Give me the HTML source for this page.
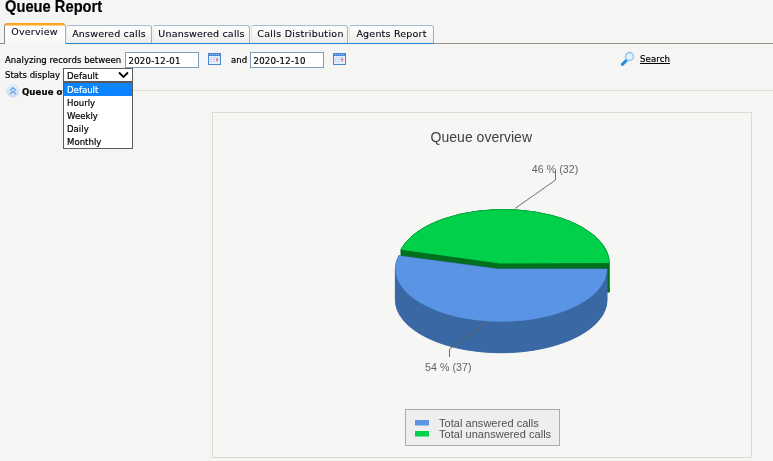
<!DOCTYPE html>
<html>
<head>
<meta charset="utf-8">
<title>Queue Report</title>
<style>
html,body{margin:0;padding:0;}
body{width:773px;height:461px;overflow:hidden;background:#f5f5f3;position:relative;
  font-family:"DejaVu Sans Condensed","Liberation Sans",sans-serif;font-size:9.5px;letter-spacing:0.02px;color:#000;-webkit-text-stroke:0.2px #000;}
.abs{position:absolute;white-space:nowrap;}
h1{position:absolute;left:5px;top:-2px;margin:0;font-family:"Liberation Sans",sans-serif;font-weight:bold;font-size:16px;line-height:18px;color:#000;white-space:nowrap;transform:scaleX(0.917);transform-origin:0 0;}
.tabline{position:absolute;left:0;top:43px;width:773px;height:1px;background:#9c8f84;}
.tab{position:absolute;top:25px;height:17px;box-sizing:content-box;border:1px solid #a9bccb;border-right-color:#9db0c0;border-left-color:#e2e9ef;border-bottom:1px solid #2f86cc;border-radius:3px 3px 0 0;
  background:linear-gradient(#fdfdfd,#f9f9f8 40%,#ebebe9);font-family:"DejaVu Sans","Liberation Sans",sans-serif;font-size:9.5px;letter-spacing:0.2px;line-height:16px;text-align:center;color:#050518;-webkit-text-stroke:0.1px #050518;white-space:nowrap;}
.tab.active{top:23px;height:21px;border:none;border-left:1px solid #8a8a8a;border-right:1px solid #b0b0b0;background:linear-gradient(#ff9a10 0,#ffa826 1.5px,#ffd28a 2.5px,#fff 3.2px,#fff 60%,#f6f6f4);border-radius:4px 4px 0 0;line-height:17px;}
.d{position:absolute;box-sizing:border-box;height:16px;border:1px solid #7f9db9;background:#fff;font-size:9.5px;letter-spacing:0.25px;line-height:16px;padding:0 0 0 2.5px;margin:0;color:#000;white-space:nowrap;overflow:hidden;}
.sel{position:absolute;left:63px;top:68px;width:70px;height:14px;box-sizing:border-box;border:1px solid #5a5a5a;background:#fff;}
.list{position:absolute;left:63px;top:82px;width:70px;height:67px;box-sizing:border-box;border:1px solid #5a5a5a;background:#fff;}
.list div{height:13px;line-height:13px;padding-left:3px;}
.list div.hl{background:#0a84ff;color:#fff;-webkit-text-stroke:0.2px #fff;}
.chart{position:absolute;left:212px;top:112px;width:538px;height:344px;border:1px solid #d9dbd5;background:#f6f6f4;}
</style>
</head>
<body>
<h1>Queue Report</h1>

<div class="tabline"></div><div class="abs" style="left:0;top:43px;width:5px;height:1px;background:#8a8a8a;"></div>
<div class="tab active" style="left:4px;width:60px;"><span style="position:relative;left:-0.5px;">Overview</span></div>
<div class="tab" style="left:66px;width:84px;">Answered calls</div>
<div class="tab" style="left:153px;width:95px;">Unanswered calls</div>
<div class="tab" style="left:251px;width:93px;padding-left:2px;letter-spacing:0.3px;">Calls Distribution</div>
<div class="tab" style="left:349px;width:83px;">Agents Report</div>
<div class="abs" style="left:66px;top:43px;width:368px;height:1px;background:#2f86cc;"></div>

<div class="abs" style="left:5px;top:54px;line-height:12px;">Analyzing records between</div>
<div class="d" style="left:125px;top:52px;width:74px;">2020-12-01</div>
<svg class="abs" style="left:208px;top:53px;" width="13" height="12" viewBox="0 0 13 12">
  <rect x="0" y="0" width="13" height="12" fill="#4a86d4"/>
  <rect x="1" y="3" width="11" height="8" fill="#e6effb"/>
  <path d="M2 1.5H11" stroke="#9cc2ef" stroke-width="1" stroke-dasharray="1 1"/>
  <path d="M3 4.5H10M2 6.5H10M2 8.5H10" stroke="#86a8d8" stroke-width="1" stroke-dasharray="1.5 1.5" opacity="0.6"/>
  <rect x="7.8" y="5.2" width="2.6" height="2.6" rx="1.2" fill="#f47a68"/>
</svg>
<div class="abs" style="left:231px;top:54px;line-height:12px;">and</div>
<div class="d" style="left:250px;top:52px;width:74px;">2020-12-10</div>
<svg class="abs" style="left:333px;top:53px;" width="13" height="12" viewBox="0 0 13 12">
  <rect x="0" y="0" width="13" height="12" fill="#4a86d4"/>
  <rect x="1" y="3" width="11" height="8" fill="#e6effb"/>
  <path d="M2 1.5H11" stroke="#9cc2ef" stroke-width="1" stroke-dasharray="1 1"/>
  <path d="M3 4.5H10M2 6.5H10M2 8.5H10" stroke="#86a8d8" stroke-width="1" stroke-dasharray="1.5 1.5" opacity="0.6"/>
  <rect x="7.8" y="5.2" width="2.6" height="2.6" rx="1.2" fill="#f47a68"/>
</svg>

<svg class="abs" style="left:620px;top:51px;" width="15" height="16" viewBox="0 0 15 16">
  <path d="M2.4 13.4L7 8.8" stroke="#1a94ea" stroke-width="3" stroke-linecap="round"/>
  <circle cx="9.5" cy="5.5" r="4" fill="#e4f2fc" stroke="#8cc4ee" stroke-width="1.3"/>
</svg>
<div class="abs" style="left:640px;top:53px;line-height:12px;text-decoration:underline;color:#000;letter-spacing:0.1px;">Search</div>

<div class="abs" style="left:5px;top:69px;line-height:12px;">Stats display</div>
<div class="sel">
  <div class="abs" style="left:3px;top:1px;line-height:12px;color:#000;">Default</div>
  <svg class="abs" style="left:54px;top:2px;" width="11" height="8" viewBox="0 0 11 8"><path d="M1 1.5L5.5 6L10 1.5" fill="none" stroke="#000" stroke-width="1.8"/></svg>
</div>

<div class="abs" style="left:133px;top:90px;width:640px;height:1px;background:#dcdcd8;"></div>
<svg class="abs" style="left:6px;top:84px;" width="14" height="14" viewBox="0 0 14 14">
  <defs><linearGradient id="cg" x1="0" y1="0" x2="0" y2="1"><stop offset="0" stop-color="#eaf1fb"/><stop offset="1" stop-color="#c6dbf5"/></linearGradient></defs>
  <circle cx="7" cy="7" r="6.4" fill="url(#cg)" stroke="#d3e0f0" stroke-width="0.6"/>
  <path d="M3.9 6.4L7 3.7L10.1 6.4M3.9 9.9L7 7.2L10.1 9.9" fill="none" stroke="#6ea4e4" stroke-width="1.3"/>
</svg>
<div class="abs" style="left:22px;top:85px;line-height:13px;font-weight:bold;font-size:9.5px;letter-spacing:0.1px;color:#000;">Queue overview</div>

<div class="list">
  <div class="hl">Default</div>
  <div>Hourly</div>
  <div>Weekly</div>
  <div>Daily</div>
  <div>Monthly</div>
</div>

<div class="chart">
<svg width="538" height="344" viewBox="213 113 538 344" style="position:absolute;left:0;top:0;font-family:'Liberation Sans',sans-serif;">
  <text x="481.3" y="141.6" text-anchor="middle" font-size="14" fill="#404040">Queue overview</text>
  <!-- PIE -->
  <g id="pie">
  <g fill="#00701e" stroke="#00701e" stroke-width="0.6"><path d="M500.0 292.5L401.0 278.7A105.8 53.7 0 0 1 609.2 292.1Z"/><path d="M500.0 263.5L401.0 249.7A105.8 53.7 0 0 1 609.2 263.1Z"/><path d="M401.0 249.7A105.8 53.7 0 0 1 609.2 263.1L609.2 292.1A105.8 53.7 0 0 0 401.0 278.7Z"/><path d="M500.0 263.5L401.0 249.7L401.0 278.7L500.0 292.5Z"/><path d="M500.0 263.5L609.2 263.1L609.2 292.1L500.0 292.5Z"/></g>
  <g fill="#3a68a5" stroke="#3a68a5" stroke-width="0.6"><path d="M498.0 300.0L607.0 300.0A105.8 52.7 0 1 1 398.8 286.8Z"/><path d="M498.0 269.0L607.0 269.0A105.8 52.7 0 1 1 398.8 255.8Z"/><path d="M607.0 269.0A105.8 52.7 0 0 1 395.4 269.0L395.4 300.0A105.8 52.7 0 0 0 607.0 300.0Z"/><path d="M395.4 269.0A105.8 52.7 0 0 1 398.8 255.8L398.8 286.8A105.8 52.7 0 0 0 395.4 300.0Z"/><path d="M498.0 269.0L607.0 269.0L607.0 300.0L498.0 300.0Z"/><path d="M498.0 269.0L398.8 255.8L398.8 286.8L498.0 300.0Z"/></g>
  <path d="M498.0 269.0L607.0 269.0A105.8 52.7 0 1 1 398.8 255.8Z" fill="#5a94e4"/>
  <path d="M500.0 263.5L401.0 249.7A105.8 53.7 0 0 1 609.2 263.1Z" fill="#00d04a"/>
  <path d="M401.0 249.7A105.8 53.7 0 0 1 609.2 263.1" fill="none" stroke="#00b341" stroke-width="0.9"/>
  <path d="M515 208.5L555.5 180V170" fill="none" stroke="#606060" stroke-width="0.9"/>
  <path d="M488.5 321.5L449.5 349V357" fill="none" stroke="#606060" stroke-width="0.9"/>
  <text x="555" y="173" text-anchor="middle" font-size="10.6" fill="#646464" letter-spacing="0.08">46 % (32)</text>
  <text x="448.3" y="371" text-anchor="middle" font-size="10.6" fill="#646464" letter-spacing="0.08">54 % (37)</text>
  </g><!--/pie-->
  <rect x="405.5" y="409.5" width="154" height="36" fill="#eeeeee" stroke="#ababab"/>
  <rect x="415" y="420" width="14" height="5.5" fill="#5a94e4"/>
  <rect x="415" y="431" width="14" height="5.5" fill="#00d04a"/>
  <text x="439" y="427" font-size="11" fill="#505050" letter-spacing="0.04">Total answered calls</text>
  <text x="439" y="438" font-size="11" fill="#505050" letter-spacing="0.04">Total unanswered calls</text>
</svg>
</div>
</body>
</html>
